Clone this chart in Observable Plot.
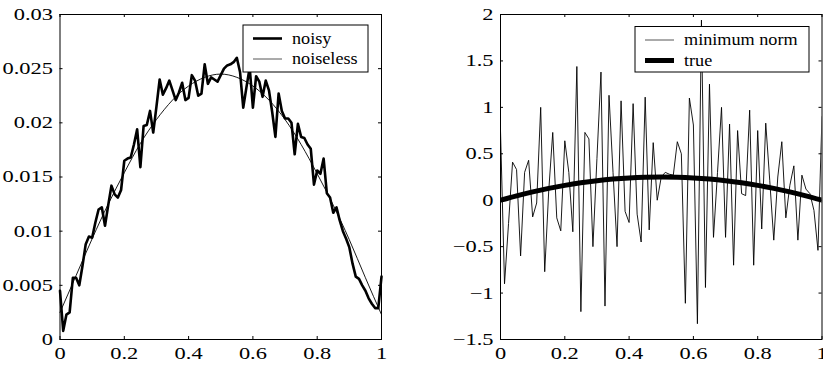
<!DOCTYPE html>
<html>
<head>
<meta charset="utf-8">
<script src="https://cdn.jsdelivr.net/npm/d3@7"></script>
<script src="https://cdn.jsdelivr.net/npm/@observablehq/plot@0.6"></script>
<style>
  html, body { margin: 0; padding: 0; background: #fff; }
  #wrap { display: flex; flex-direction: row; width: 823px; height: 367px; }
  #wrap svg { flex: none; }
</style>
</head>
<body>
<div id="wrap"></div>
<script>
// ---------- data ----------
const xTicks = [0, 0.2, 0.4, 0.6, 0.8, 1];
const xTickLabels = ["0", "0.2", "0.4", "0.6", "0.8", "1"];
const leftYTicks = [0, 0.005, 0.01, 0.015, 0.02, 0.025, 0.03];
const leftYTickLabels = ["0", "0.005", "0.01", "0.015", "0.02", "0.025", "0.03"];
const rightYTicks = [-1.5, -1, -0.5, 0, 0.5, 1, 1.5, 2];
const rightYTickLabels = ["\u22121.5", "\u22121", "\u22120.5", "0", "0.5", "1", "1.5", "2"];

// left panel: noisy samples (101 evenly spaced points on [0,1])
const noisyY = [
  0.0045, 0.0008, 0.0023, 0.0025, 0.0057, 0.0057, 0.0050, 0.0068, 0.0088, 0.0095,
  0.0094, 0.0108, 0.0120, 0.0122, 0.0105, 0.0124, 0.0142, 0.0134, 0.0131, 0.0138,
  0.0165, 0.0167, 0.0168, 0.0180, 0.0194, 0.0159, 0.0197, 0.0198, 0.0211, 0.0191,
  0.0215, 0.0240, 0.0226, 0.0232, 0.0239, 0.0230, 0.0221, 0.0228, 0.0237, 0.0221,
  0.0223, 0.0244, 0.0239, 0.0225, 0.0227, 0.0254, 0.0236, 0.0242, 0.0240, 0.0238,
  0.0244, 0.0250, 0.0253, 0.0254, 0.0256, 0.0260, 0.0247, 0.0214, 0.0233, 0.0251,
  0.0214, 0.0243, 0.0238, 0.0224, 0.0239, 0.0230, 0.0210, 0.0187, 0.0227, 0.0211,
  0.0204, 0.0204, 0.0200, 0.0171, 0.0199, 0.0187, 0.0186, 0.0180, 0.0176, 0.0143,
  0.0156, 0.0153, 0.0167, 0.0135, 0.0131, 0.0117, 0.0122, 0.0110, 0.0100, 0.0093,
  0.0085, 0.0070, 0.0058, 0.0056, 0.0050, 0.0045, 0.0038, 0.0033, 0.0029, 0.0029,
  0.0058
];
const noisyX = noisyY.map((_, i) => i / (noisyY.length - 1));

// left panel: noiseless curve
const noiselessX = [0, 0.05, 0.1, 0.15, 0.2, 0.25, 0.3, 0.35, 0.4, 0.45, 0.5,
                    0.55, 0.6, 0.65, 0.7, 0.75, 0.8, 0.85, 0.9, 0.95, 1];
const noiselessY = [0.0025, 0.0059, 0.0093, 0.0125, 0.0154, 0.0181, 0.0203, 0.0221, 0.0234, 0.0242, 0.0245,
                    0.0242, 0.0234, 0.0221, 0.0203, 0.0180, 0.0153, 0.0124, 0.0092, 0.0057, 0.0023];

// right panel: minimum norm solution (81 evenly spaced points on [0,1])
const minNormY = [
  0.75, -0.90, -0.25, 0.41, 0.33, -0.60, 0.30, 0.43, -0.18, -0.03,
  1.00, -0.77, 0.10, 0.73, -0.19, -0.33, 0.64, 0.30, -0.34, 1.44,
  -1.20, 0.73, 0.66, -0.50, 0.45, 1.38, -1.14, 1.13, 0.30, -0.50,
  1.07, -0.12, -0.24, 1.04, -0.15, -0.45, 1.11, -0.32, 0.62, 0.00,
  0.25, 0.30, 0.28, 0.27, 0.63, 0.50, -1.11, 1.10, 0.81, -1.33,
  1.94, -0.94, 1.25, -0.40, 0.30, 1.00, -0.40, 0.82, -0.70, 0.75,
  0.07, 0.05, 0.97, -0.70, 0.75, -0.31, 0.83, 0.21, -0.43, 0.25,
  0.63, -0.19, 0.16, 0.37, -0.43, 0.27, 0.12, 0.07, -0.11, -0.54,
  0.90
];
const minNormX = minNormY.map((_, i) => i / (minNormY.length - 1));

// right panel: true solution
const trueX = [0, 0.05, 0.1, 0.15, 0.2, 0.25, 0.3, 0.35, 0.4, 0.45, 0.5,
               0.55, 0.6, 0.65, 0.7, 0.75, 0.8, 0.85, 0.9, 0.95, 1];
const trueY = [0.00, 0.0475, 0.09, 0.1275, 0.16, 0.1875, 0.21, 0.2275, 0.24, 0.2475, 0.25,
               0.2475, 0.24, 0.2275, 0.21, 0.1875, 0.16, 0.1275, 0.09, 0.0475, 0.00];

const leftLegend = [{label: "noisy", w: 2.6, c: "#000"}, {label: "noiseless", w: 0.9, c: "#444"}];
const rightLegend = [{label: "minimum norm", w: 0.9, c: "#444"}, {label: "true", w: 5, c: "#000"}];

// ---------- helpers ----------
const FONT = "Liberation Serif, Times New Roman, serif";
const TICK_STRETCH = 1.32;
const LEGEND_STRETCH = 1.07;
function stretchText(nodes, s) {
  nodes.forEach(t => {
    const x = +t.getAttribute("x") || 0;
    const tr = t.getAttribute("transform") || "";
    t.setAttribute("transform", `${tr} translate(${x},0) scale(${s},1) translate(${-x},0)`);
  });
}
// box is given in page pixels; offset = the svg's left position on the page
function addLegend(svg, offset, box, items) {
  const g = d3.select(svg).append("g").attr("class", "legend")
    .attr("transform", `translate(${-offset},0)`);
  g.append("rect").attr("x", box.x).attr("y", box.y).attr("width", box.w).attr("height", box.h)
    .attr("fill", "#fff").attr("stroke", "#000").attr("stroke-width", 1);
  items.forEach((it, k) => {
    const cy = box.y + 13.5 + k * 20.5;
    g.append("line").attr("x1", box.x + 10).attr("x2", box.x + 39).attr("y1", cy).attr("y2", cy)
      .attr("stroke", it.c).attr("stroke-width", it.w);
    g.append("text").attr("x", box.x + 49).attr("y", cy + 5.5).attr("font-size", 17)
      .attr("text-anchor", "start")
      .attr("font-family", FONT).attr("fill", "#000").text(it.label);
  });
}
function finish(svg) {
  const all = Array.from(svg.querySelectorAll("text"));
  const legend = Array.from(svg.querySelectorAll("g.legend text"));
  stretchText(all.filter(t => !legend.includes(t)), TICK_STRETCH);
  stretchText(legend, LEGEND_STRETCH);
}
function panel({width, marginLeft, marginRight, yDomain, yTicks, yLabels, marks}) {
  const height = 367, marginTop = 14, marginBottom = 28;
  const plotW = width - marginLeft - marginRight;
  const plotH = height - marginTop - marginBottom;
  const tx = 3 / plotW;                                  // 3px inward ticks, in data units
  const ty = (yDomain[1] - yDomain[0]) * 3 / plotH;
  return Plot.plot({
    width, height, marginLeft, marginRight, marginTop, marginBottom,
    style: {fontFamily: FONT, fontSize: "17px", color: "#000", background: "#fff"},
    x: {domain: [0, 1], axis: null},
    y: {domain: yDomain, axis: null},
    marks: [
      ...marks,
      Plot.frame({stroke: "#000", strokeWidth: 1}),
      Plot.ruleY(yTicks, {y: d => d, x1: 0, x2: tx, stroke: "#000"}),
      Plot.ruleY(yTicks, {y: d => d, x1: 1 - tx, x2: 1, stroke: "#000"}),
      Plot.ruleX(xTicks, {x: d => d, y1: yDomain[0], y2: yDomain[0] + ty, stroke: "#000"}),
      Plot.ruleX(xTicks, {x: d => d, y1: yDomain[1] - ty, y2: yDomain[1], stroke: "#000"}),
      Plot.axisY(yTicks, {anchor: "left", tickSize: 0, tickPadding: 7, label: null,
        tickFormat: d => yLabels[yTicks.indexOf(d)], fill: "#000"}),
      Plot.axisX(xTicks, {anchor: "bottom", tickSize: 0, tickPadding: 7, label: null,
        tickFormat: d => xTickLabels[xTicks.indexOf(d)], fill: "#000"})
    ]
  });
}

// ---------- left panel ----------
const left = panel({
  width: 420, marginLeft: 59.5, marginRight: 39,
  yDomain: [0, 0.03], yTicks: leftYTicks, yLabels: leftYTickLabels,
  marks: [
    Plot.line(noiselessX.map((x, i) => ({x, y: noiselessY[i]})),
      {x: "x", y: "y", stroke: "#000", strokeWidth: 0.9, curve: "natural"}),
    Plot.line(noisyX.map((x, i) => ({x, y: noisyY[i]})),
      {x: "x", y: "y", stroke: "#000", strokeWidth: 2.6})
  ]
});
addLegend(left, 0, {x: 243, y: 25, w: 125, h: 47}, leftLegend);
finish(left);

// ---------- right panel ----------
const right = panel({
  width: 403, marginLeft: 80, marginRight: 1.5,
  yDomain: [-1.5, 2], yTicks: rightYTicks, yLabels: rightYTickLabels,
  marks: [
    Plot.line(minNormX.map((x, i) => ({x, y: minNormY[i]})),
      {x: "x", y: "y", stroke: "#000", strokeWidth: 0.9, clip: true}),
    Plot.line(trueX.map((x, i) => ({x, y: trueY[i]})),
      {x: "x", y: "y", stroke: "#000", strokeWidth: 5, curve: "natural", clip: true})
  ]
});
addLegend(right, 420, {x: 635, y: 26.5, w: 174, h: 45.5}, rightLegend);
finish(right);

document.getElementById("wrap").append(left, right);
</script>
</body>
</html>
